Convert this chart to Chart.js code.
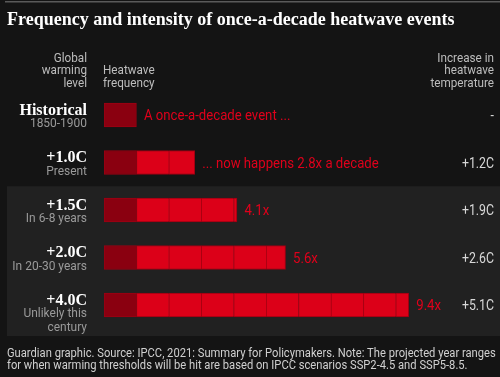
<!DOCTYPE html>
<html>
<head>
<meta charset="utf-8">
<script src="https://cdn.jsdelivr.net/npm/chart.js@4.4.1/dist/chart.umd.min.js"></script>
<style>
  html, body { margin: 0; padding: 0; background: #141414; }
  #wrap { width: 500px; height: 377px; }
</style>
</head>
<body>
<div id="wrap"><canvas id="js-chart-heatwave" width="500" height="377"></canvas></div>
<script>
// Chart data
const levels = ['Historical', '+1.0C', '+1.5C', '+2.0C', '+4.0C'];
const levelNotes = [['1850-1900'], ['Present'], ['In 6-8 years'], ['In 20-30 years'], ['Unlikely this', 'century']];
const frequency = [1, 2.8, 4.1, 5.6, 9.4];
const frequencyLabels = ['A once-a-decade event ...', '... now happens 2.8x a decade', '4.1x', '5.6x', '9.4x'];
const tempIncrease = ['-', '+1.2C', '+1.9C', '+2.6C', '+5.1C'];

const SERIF = '"Liberation Serif", serif';
const SANS = 'Roboto, sans-serif';
const RED = '#e0001b';

// one dataset per decade-unit, so every bar is split in squares
let segments = [];
for (let k = 0; k < 10; k++) {
  segments.push({
    label: 'unit ' + (k + 1),
    data: frequency.map(v => v > k ? Math.min(1, v - k) : null),
    backgroundColor: k === 0 ? '#8a0010' : '#dc0018',
    borderColor: '#9c0012',
    borderWidth: ctx => ({
      left: 1, top: 1, bottom: 1,
      right: frequency[ctx.dataIndex] <= k + 1 ? 1 : 0
    }),
    borderSkipped: false,
    barThickness: 24
  });
}

function text(ctx, str, x, y, font, color, align, squeeze) {
  ctx.save();
  ctx.font = font;
  ctx.fillStyle = color;
  ctx.textAlign = align || 'left';
  ctx.textBaseline = 'alphabetic';
  ctx.translate(x, y);
  ctx.scale(squeeze || 1, 1);
  ctx.fillText(str, 0, 0);
  ctx.restore();
}

const backdrop = {
  id: 'backdrop',
  beforeDraw(chart) {
    const ctx = chart.ctx;
    const y = chart.scales.y;
    ctx.save();
    ctx.fillStyle = '#141414';
    ctx.fillRect(0, 0, chart.width, chart.height);
    // thin rule on top
    ctx.fillStyle = '#5a5a5a';
    ctx.fillRect(5, 1, chart.width - 5, 1.5);
    // lighter panel behind the future scenarios
    const top = (y.getPixelForValue(1) + y.getPixelForValue(2)) / 2;
    ctx.fillStyle = '#212121';
    ctx.fillRect(7, top, chart.width - 7, 336 - top);
    ctx.restore();
  },
  afterDraw(chart) {
    const ctx = chart.ctx;
    const x = chart.scales.x;
    const y = chart.scales.y;

    text(ctx, 'Frequency and intensity of once-a-decade heatwave events', 7, 25, 'bold 18px ' + SERIF, '#ffffff', 'left', 1);

    // column headers
    ['Global', 'warming', 'level'].forEach((s, i) => text(ctx, s, 87, 61.5 + i * 12.75, '13px ' + SANS, '#bdbdbd', 'right', 0.9));
    ['Heatwave', 'frequency'].forEach((s, i) => text(ctx, s, 103, 74.3 + i * 12.75, '13px ' + SANS, '#bdbdbd', 'left', 0.9));
    ['Increase in', 'heatwave', 'temperature'].forEach((s, i) => text(ctx, s, 494, 61.5 + i * 12.75, '13px ' + SANS, '#bdbdbd', 'right', 0.9));

    levels.forEach((lvl, i) => {
      const cy = y.getPixelForValue(i);
      text(ctx, lvl, 87, cy - 0.5, 'bold 16px ' + SERIF, '#ffffff', 'right', 1);
      levelNotes[i].forEach((n, j) => text(ctx, n, 87, cy + 12 + j * 13.5, '13px ' + SANS, '#9a9a9a', 'right', 0.92));
      const end = x.getPixelForValue(frequency[i]);
      text(ctx, frequencyLabels[i], end + 7.5, cy + 5, '14px ' + SANS, RED, 'left', 0.94);
      text(ctx, tempIncrease[i], 494, cy + 5, '14px ' + SANS, '#d8d8d8', 'right', 0.88);
    });

    // footer
    text(ctx, 'Guardian graphic. Source: IPCC, 2021: Summary for Policymakers. Note: The projected year ranges', 7, 356.7, '12.5px ' + SANS, '#d0d0d0', 'left', 0.895);
    text(ctx, 'for when warming thresholds will be hit are based on IPCC scenarios SSP2-4.5 and SSP5-8.5.', 7, 368.5, '12.5px ' + SANS, '#d0d0d0', 'left', 0.895);
  }
};

let chartHeatwave = new Chart(document.getElementById('js-chart-heatwave'), {
  type: 'bar',
  data: { labels: levels, datasets: segments },
  options: {
    responsive: false,
    animation: false,
    devicePixelRatio: 1,
    indexAxis: 'y',
    layout: { padding: { left: 104, right: 39.4, top: 91.25, bottom: 48.25 } },
    scales: {
      x: { stacked: true, min: 0, max: 11, display: false },
      y: { stacked: true, display: false }
    },
    plugins: {
      legend: { display: false },
      tooltip: { enabled: false }
    }
  },
  plugins: [backdrop]
});
</script>
</body>
</html>
